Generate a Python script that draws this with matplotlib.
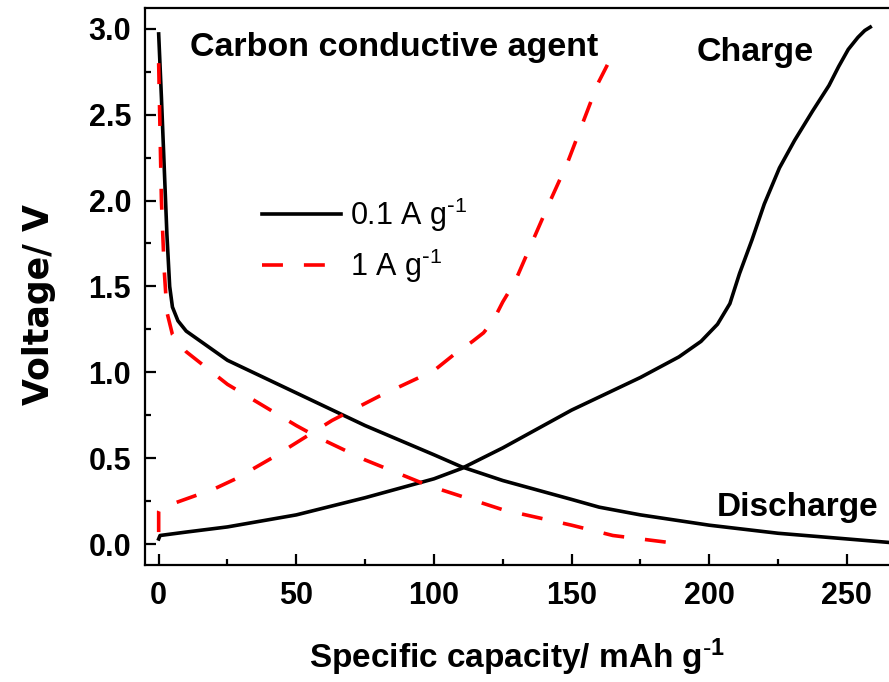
import numpy as np
import matplotlib
matplotlib.use("Agg")
import matplotlib.pyplot as plt
from matplotlib.ticker import MultipleLocator

plt.rcParams['font.family'] = ['Liberation Sans', 'DejaVu Sans']
plt.rcParams['mathtext.default'] = 'regular'

# 0.1 A g-1 (black, solid)
cap_chg_01 = [0, 0.5, 10, 25, 50, 75, 100, 110, 125, 150, 175, 189, 197, 203, 207.5, 211, 215.5, 220, 225.5,
              231, 237.5, 243.5, 247, 250.5, 254, 256.5, 258.5]
v_chg_01 = [0.03, 0.05, 0.07, 0.10, 0.17, 0.27, 0.38, 0.44, 0.56, 0.78, 0.97, 1.09, 1.18, 1.28, 1.40, 1.575, 1.77, 1.98, 2.19,
            2.35, 2.52, 2.67, 2.78, 2.88, 2.95, 2.99, 3.01]
cap_dis_01 = [0, 1, 2, 3, 4, 5, 7, 10, 25, 50, 75, 100, 110, 125, 150, 160, 175, 200, 225, 250, 265]
v_dis_01 = [2.97, 2.6, 2.2, 1.8, 1.5, 1.38, 1.30, 1.24, 1.07, 0.88, 0.69, 0.52, 0.45, 0.37, 0.26, 0.215, 0.17, 0.11, 0.063, 0.03, 0.01]

# 1 A g-1 (red, dashed)
cap_chg_1 = [0, 0, 0.5, 6, 20, 28, 41, 63, 80, 100, 107, 114, 118, 121.5, 125, 129.5, 136, 142, 148.5, 154, 159.5, 163]
v_chg_1 = [0.07, 0.19, 0.21, 0.24, 0.32, 0.38, 0.50, 0.72, 0.86, 1.01, 1.10, 1.18, 1.23, 1.30, 1.41, 1.53, 1.77, 1.99, 2.22, 2.45, 2.68, 2.79]
cap_dis_1 = [0, 0.5, 1, 2, 3, 5, 10, 25, 50, 58, 75, 95, 100, 125, 150, 165, 175, 185]
v_dis_1 = [2.80, 2.4, 2.0, 1.6, 1.35, 1.22, 1.12, 0.93, 0.69, 0.62, 0.49, 0.36, 0.33, 0.20, 0.11, 0.05, 0.03, 0.01]

fig = plt.figure(figsize=(8.89, 6.82), dpi=100)
ax = fig.add_axes([0.163, 0.172, 0.837, 0.816])

ax.plot(cap_chg_01, v_chg_01, color='black', lw=2.6, label='0.1 A g$^{\\text{-}1}$')
ax.plot(cap_dis_01, v_dis_01, color='black', lw=2.6)
ax.plot(cap_chg_1, v_chg_1, color='red', lw=2.6, dashes=(5.8, 5.8), label='1 A g$^{\\text{-}1}$')
ax.plot(cap_dis_1, v_dis_1, color='red', lw=2.6, dashes=(5.8, 5.8))

ax.set_xlim(-5, 265.3)
ax.set_ylim(-0.12, 3.12)
ax.xaxis.set_major_locator(MultipleLocator(50))
ax.xaxis.set_minor_locator(MultipleLocator(25))
ax.yaxis.set_major_locator(MultipleLocator(0.5))
ax.yaxis.set_minor_locator(MultipleLocator(0.25))
ax.yaxis.set_major_formatter(plt.FormatStrFormatter('%.1f'))
ax.tick_params(which='both', direction='in', width=1.6, top=False, right=False)
ax.tick_params(which='major', length=8, labelsize=22, pad=10)
ax.tick_params(axis='x', which='major', pad=12)
ax.tick_params(which='minor', length=4.5)
for lab in ax.get_xticklabels() + ax.get_yticklabels():
    lab.set_fontweight('bold')
for s in ['left', 'bottom', 'top']:
    ax.spines[s].set_linewidth(1.6)
ax.spines['right'].set_visible(False)

ax.set_xlabel('Specific capacity/ mAh g$^{\\text{-}1}$', fontsize=24, fontweight='bold', va='center')
ax.xaxis.set_label_coords(0.5, -0.167)
ax.set_ylabel('Voltage/ V', fontsize=25, fontweight='bold', family='DejaVu Sans', va='center')
ax.yaxis.set_label_coords(-0.142, 0.467)

ax.text(11.3, 2.89, 'Carbon conductive agent', fontsize=24.5, fontweight='bold', va='center', ha='left')
ax.text(195.5, 2.86, 'Charge', fontsize=24.5, fontweight='bold', va='center', ha='left')
ax.text(202.8, 0.215, 'Discharge', fontsize=24, fontweight='bold', va='center', ha='left')

ax.legend(loc='center left', bbox_to_anchor=(0.157, 0.583), frameon=False, fontsize=22,
          handlelength=2.6, handletextpad=0.3, labelspacing=0.4, borderaxespad=0, borderpad=0)

fig.savefig('out.png', dpi=100)
